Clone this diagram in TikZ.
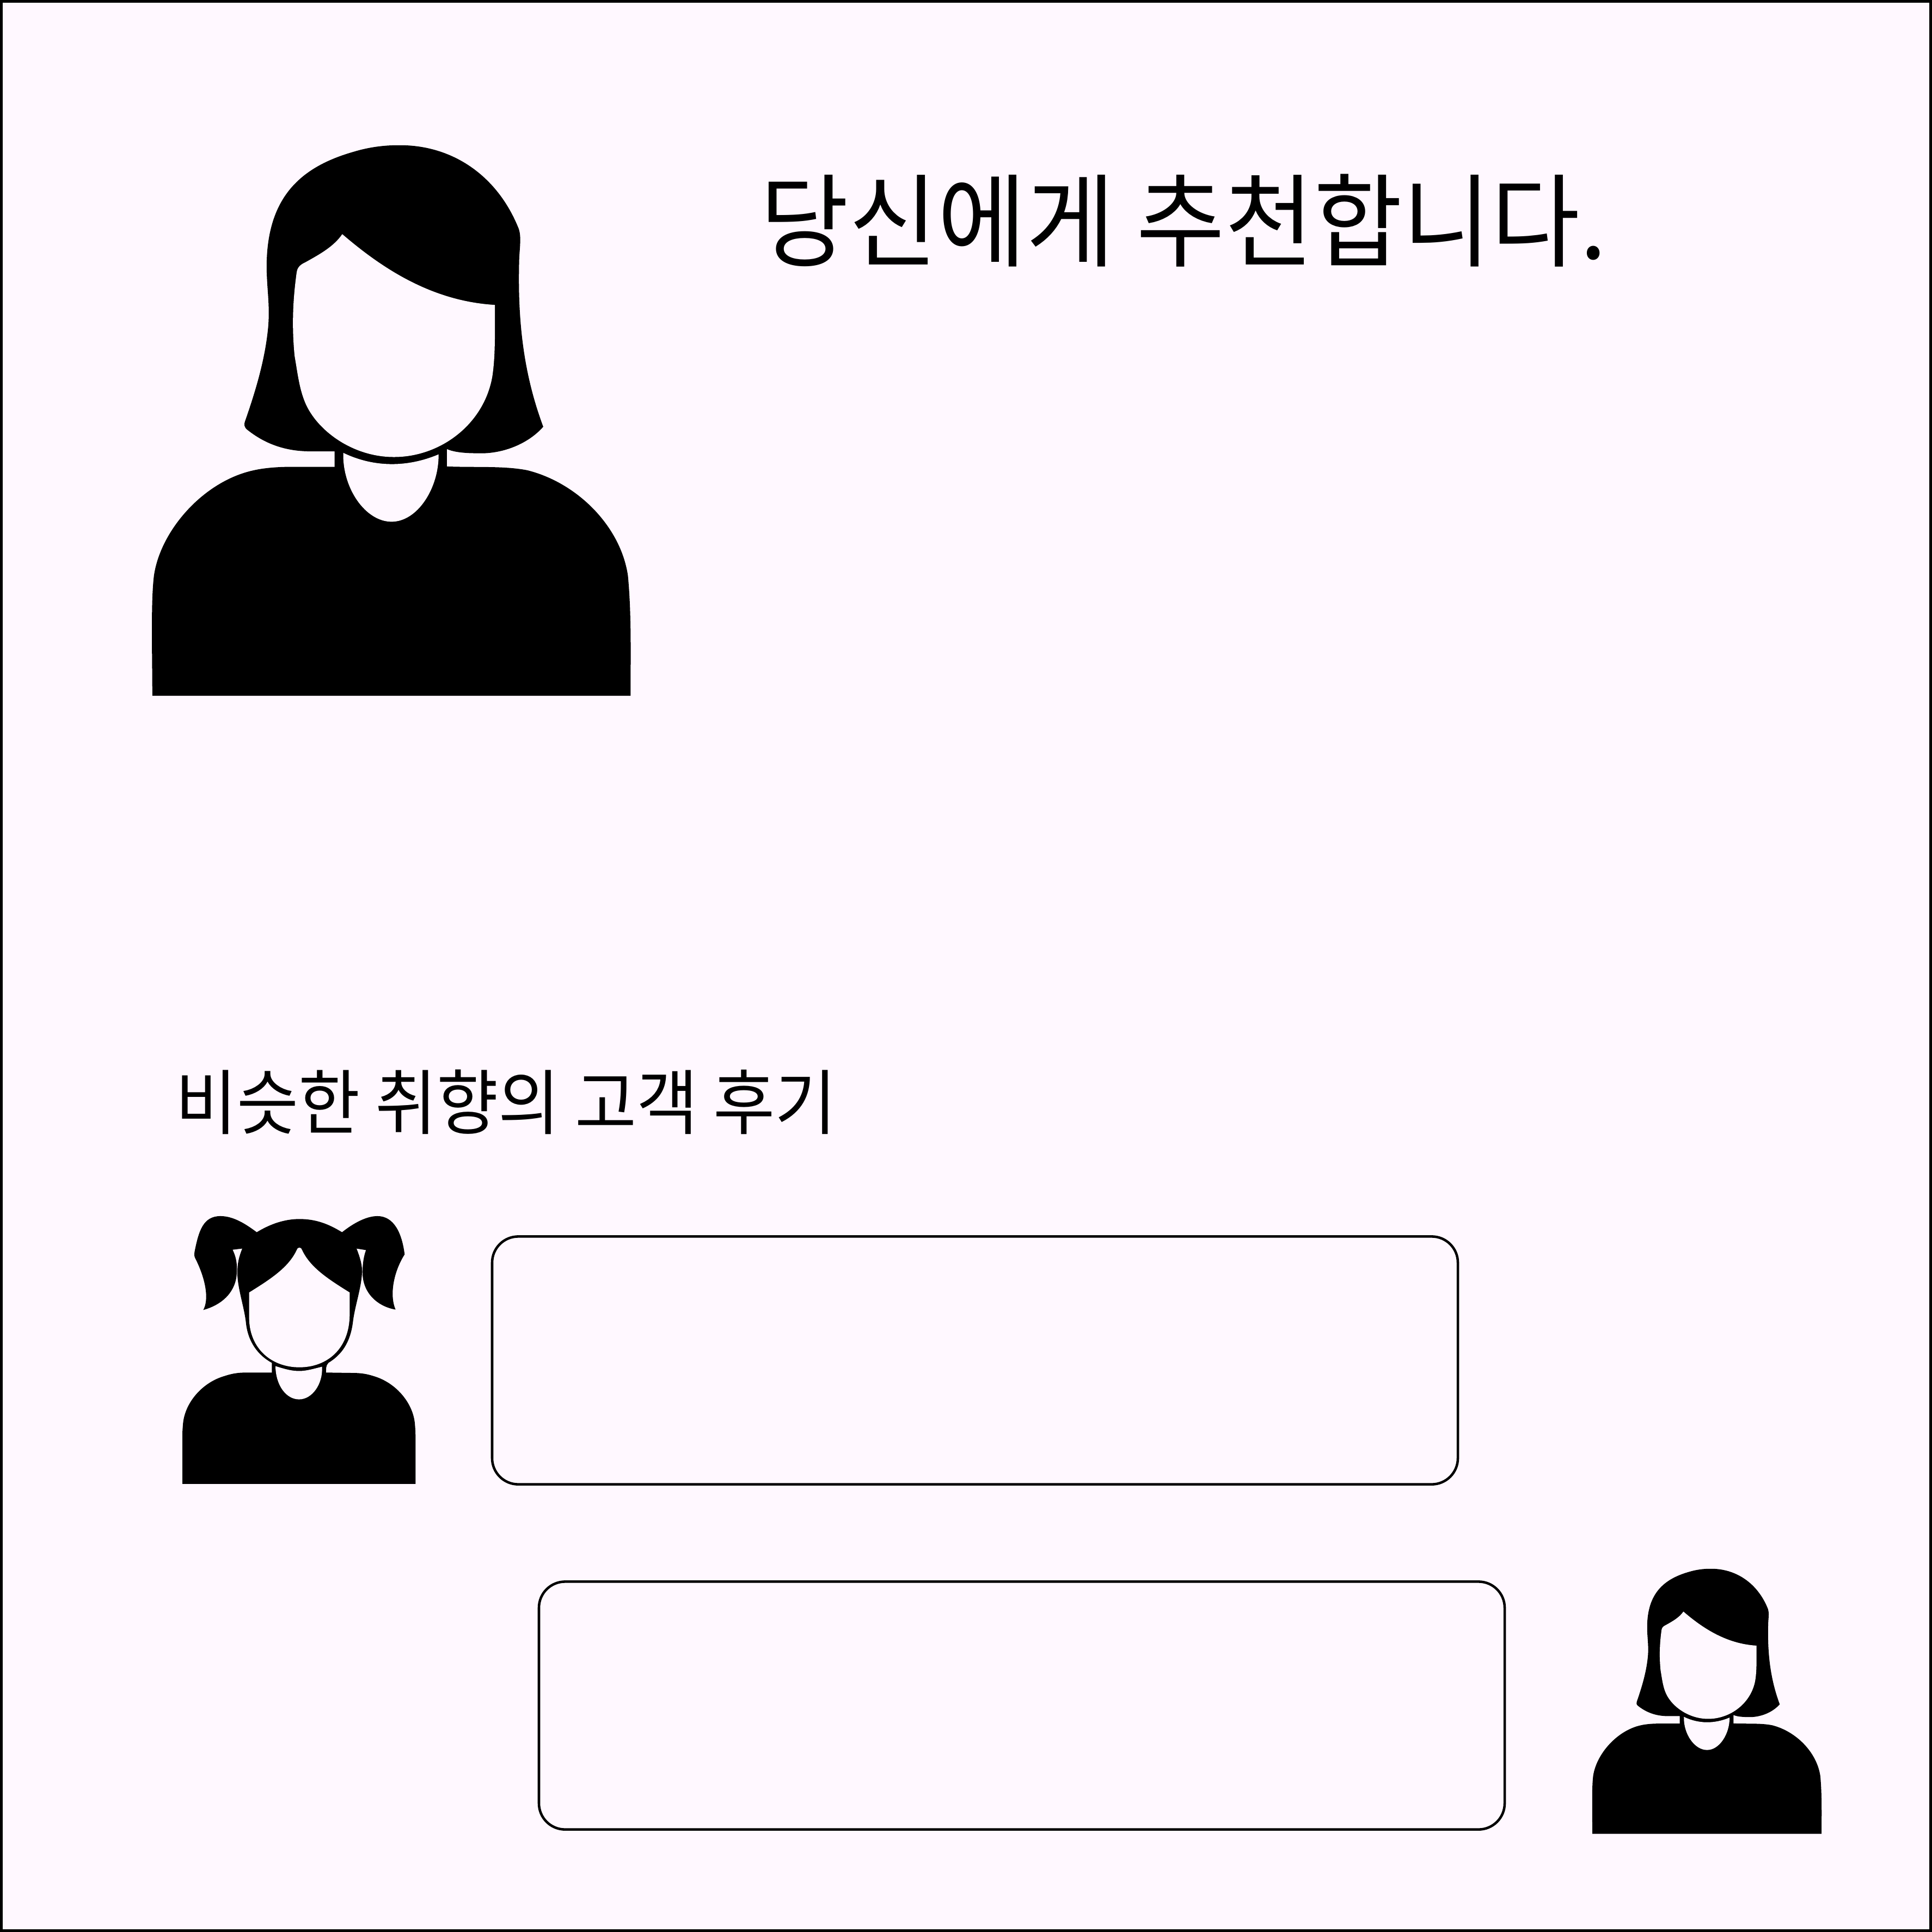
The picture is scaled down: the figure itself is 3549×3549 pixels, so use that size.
\documentclass[tikz,border=0pt]{standalone}
\usepackage{fontspec}
\newfontfamily\krfont{Noto Sans CJK KR}
\definecolor{pagepink}{HTML}{FFF8FF}
\tikzset{
  reviewbox/.style={draw=black,line width=1.3pt,rounded corners=0.48cm,minimum width=17.73cm,minimum height=4.55cm,inner sep=0pt},
  textnode/.style={inner sep=0pt,anchor=west,font=\krfont},
}
% one person, drawn in its own units
\newcommand{\womanicon}{
\fill [black] (800,-53) .. controls (960,-50) and (1100,-130) .. (1165,-275) .. controls (1172,-295) and (1168,-320) .. (1166,-350) .. controls (1160,-520) and (1180,-660) .. (1238,-797) .. controls (1190,-845) and (1110,-870) .. (1040,-867) .. controls (1000,-867) and (970,-864) .. (949,-856) -- (949,-905) -- (612,-905) -- (612,-862) -- (540,-862) .. controls (460,-862) and (400,-840) .. (350,-805) .. controls (340,-798) and (340,-790) .. (343,-783) .. controls (380,-690) and (405,-610) .. (413,-530) .. controls (418,-470) and (408,-430) .. (408,-370) .. controls (410,-190) and (510,-110) .. (670,-70) .. controls (715,-58) and (760,-53) .. (800,-53) -- cycle;
\fill [black] (612,-903) -- (480,-903) .. controls (440,-903) and (400,-906) .. (370,-912) .. controls (220,-940) and (90,-1070) .. (70,-1190) .. controls (60,-1260) and (65,-1400) .. (65,-1508) -- (1500,-1508) .. controls (1500,-1400) and (1503,-1290) .. (1492,-1190) .. controls (1470,-1060) and (1340,-945) .. (1190,-912) .. controls (1120,-900) and (1040,-905) .. (949,-902) -- cycle;
\fill [pagepink] (635,-288) .. controls (750,-375) and (900,-465) .. (1093,-475) -- (1093,-520) .. controls (1093,-570) and (1093,-620) .. (1085,-665) .. controls (1060,-790) and (930,-877) .. (790,-877) .. controls (660,-877) and (550,-800) .. (520,-725) .. controls (505,-690) and (500,-650) .. (492,-610) .. controls (483,-530) and (487,-460) .. (498,-390) .. controls (500,-375) and (510,-368) .. (525,-362) .. controls (570,-340) and (610,-320) .. (635,-288) -- cycle;
\fill [pagepink] (638,-866) .. controls (730,-905) and (830,-905) .. (924,-870) .. controls (925,-960) and (860,-1048) .. (783,-1048) .. controls (705,-1048) and (635,-960) .. (638,-866) -- cycle;
}
\newcommand{\girlicon}{
\fill [black] (720,-110) .. controls (810,-110) and (880,-135) .. (955,-178) .. controls (1020,-130) and (1090,-95) .. (1150,-95) .. controls (1240,-95) and (1285,-180) .. (1300,-292) .. controls (1240,-380) and (1215,-500) .. (1250,-576) .. controls (1150,-560) and (1068,-490) .. (1068,-385) .. controls (1068,-340) and (1075,-300) .. (1087,-270) -- (1035,-262) .. controls (1055,-310) and (1068,-350) .. (1065,-390) .. controls (1060,-470) and (1025,-560) .. (1015,-640) .. controls (1000,-750) and (950,-810) .. (880,-850) .. controls (865,-865) and (867,-880) .. (867,-905) -- (568,-905) -- (568,-850) .. controls (490,-810) and (435,-740) .. (425,-640) .. controls (415,-560) and (380,-470) .. (378,-390) .. controls (378,-340) and (385,-310) .. (405,-262) -- (352,-268) .. controls (368,-300) and (378,-330) .. (375,-385) .. controls (372,-480) and (300,-550) .. (190,-578) .. controls (220,-530) and (210,-430) .. (145,-310) .. controls (140,-300) and (140,-290) .. (142,-280) .. controls (165,-170) and (190,-95) .. (285,-95) .. controls (360,-95) and (430,-140) .. (485,-178) .. controls (560,-135) and (640,-110) .. (720,-110) -- cycle;
\fill [black] (568,-900) -- (430,-900) .. controls (370,-900) and (340,-908) .. (300,-920) .. controls (180,-955) and (85,-1060) .. (78,-1170) .. controls (75,-1200) and (75,-1220) .. (75,-1240) -- (75,-1473) -- (1360,-1473) -- (1360,-1240) .. controls (1360,-1220) and (1360,-1200) .. (1357,-1170) .. controls (1350,-1060) and (1255,-955) .. (1135,-920) .. controls (1095,-908) and (1065,-902) .. (1010,-902) -- (867,-900) -- cycle;
\fill [pagepink] (720,-257) .. controls (728,-257) and (732,-262) .. (735,-270) .. controls (780,-360) and (880,-420) .. (997,-488) -- (997,-600) .. controls (997,-780) and (870,-873) .. (720,-873) .. controls (570,-873) and (445,-780) .. (443,-620) -- (443,-488) .. controls (560,-420) and (660,-360) .. (705,-270) .. controls (708,-262) and (712,-257) .. (720,-257) -- cycle;
\fill [pagepink] (588,-867) .. controls (650,-885) and (680,-892) .. (720,-892) .. controls (760,-892) and (800,-880) .. (845,-870) .. controls (850,-960) and (790,-1038) .. (718,-1038) .. controls (650,-1038) and (590,-970) .. (588,-867) -- cycle;
}
\begin{document}
\begin{tikzpicture}[x=0.01cm,y=0.01cm]
\useasboundingbox (0,-3549) rectangle (3549,0);
\draw [black,line width=1.4pt,fill=pagepink] (2.5,-2.5) rectangle (3546.5,-3546.5);
% people
\begin{scope}[shift={(240,-230)},xscale=0.6122,yscale=0.695]
\womanicon
\end{scope}
\begin{scope}[shift={(310,-2200)},xscale=0.3333,yscale=0.357]
\girlicon
\end{scope}
\begin{scope}[shift={(2906,-2864)},xscale=0.2934,yscale=0.3346]
\womanicon
\end{scope}
% texts
\node [textnode,xscale=0.95,font=\krfont\fontsize{53}{60}\selectfont] (titletext) at (1396,-405) {당신에게 추천합니다.};
\node [textnode,xscale=0.945,font=\krfont\fontsize{37}{44}\selectfont] (reviewtitle) at (322,-2024) {비슷한 취향의 고객 후기};
% review boxes
\node [reviewbox] (reviewone) at (1791,-2499) {};
\node [reviewbox] (reviewtwo) at (1877,-3133) {};
\end{tikzpicture}
\end{document}
